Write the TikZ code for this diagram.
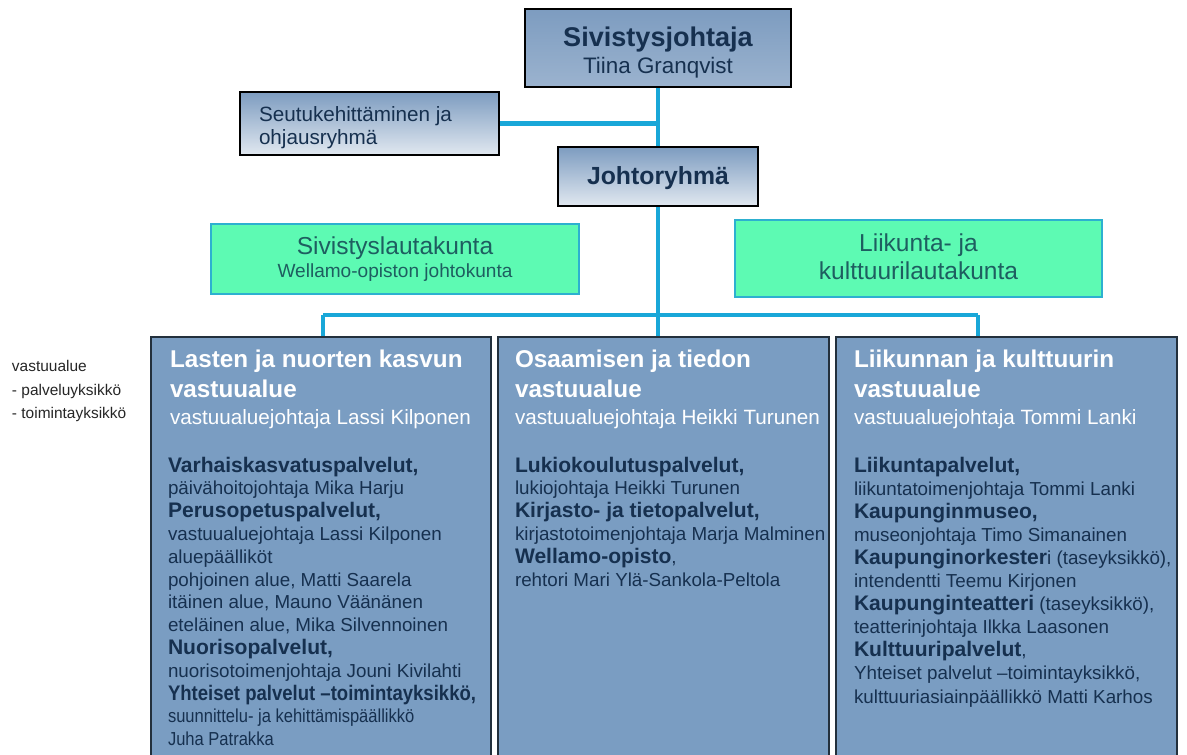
\documentclass[tikz,border=0pt]{standalone}
\usepackage{fontspec}
\setmainfont{Liberation Sans}
\usetikzlibrary{fit}
\definecolor{spine}{HTML}{19A7D8}
\definecolor{navy}{HTML}{16304F}
\definecolor{topA}{HTML}{7D9CC0}
\definecolor{topB}{HTML}{E1E8F0}
\definecolor{topM}{HTML}{DCE5EE}
\definecolor{mint}{HTML}{5DFAB3}
\definecolor{mintedge}{HTML}{2DB0D0}
\definecolor{teal}{HTML}{1E5E60}
\definecolor{areafill}{HTML}{7A9DC2}
\definecolor{areaedge}{HTML}{23303C}
\newcommand\hd[1]{{\fontsize{15.8}{19}\selectfont\bfseries #1}}
\newcommand\narrow[1]{\scalebox{0.88}[1]{#1}}
\tikzset{
  topbox/.style={draw=black, line width=1.5pt, top color=topA, bottom color=topB, inner sep=0pt, outer sep=0pt},
  headbox/.style={draw=black, line width=1.5pt, top color=topA, middle color=topM, bottom color=topA!70!topB, inner sep=0pt, outer sep=0pt},
  boardbox/.style={draw=mintedge, line width=1.5pt, fill=mint, inner sep=0pt, outer sep=0pt},
  areabox/.style={draw=areaedge, line width=1.5pt, fill=areafill, inner sep=0pt, outer sep=0pt},
  conn/.style={draw=spine, line width=3.6pt},
  txt/.style={inner sep=0pt, outer sep=0pt},
  body/.style={txt, anchor=base west, text=navy, font=\fontsize{14.1}{17}\selectfont},
  legend/.style={txt, anchor=base west, text=black!85, font=\fontsize{11.6}{14}\selectfont},
}
\begin{document}
\begin{tikzpicture}[x=0.75pt,y=-0.75pt]
\useasboundingbox (0,0) rectangle (1187,755);
\node[headbox, fit={(525,9) (791,87)}] (top) {};
\node[topbox, fit={(240,92) (499,155)}] (seutu) {};
\node[topbox, fit={(558,147) (758,206)}] (jr) {};
\node[areabox, fit={(151,337) (491,762)}] (b1) {};
\node[areabox, fit={(498,337) (829,762)}] (b2) {};
\node[areabox, fit={(836,337) (1177,762)}] (b3) {};
\coordinate (d1) at (323,315);
\coordinate (d3) at (978,315);
% connectors
\draw[conn] (top.south) -- (jr.north);
\draw[conn] (seutu.east) -- (seutu.east -| top.south);
\draw[conn] (jr.south) -- (jr.south |- b2.north);
\draw[conn] (d1) -- (d3);
\draw[conn] (d1) -- (d1 |- b1.north);
\draw[conn] (d3) -- (d3 |- b3.north);
% redraw box outlines on top of connector ends
\draw[draw=black, line width=1.5pt] (top.north west) rectangle (top.south east);
\draw[draw=black, line width=1.5pt] (seutu.north west) rectangle (seutu.south east);
\draw[draw=black, line width=1.5pt] (jr.north west) rectangle (jr.south east);
\draw[draw=areaedge, line width=1.5pt] (b1.north west) rectangle (b1.south east);
\draw[draw=areaedge, line width=1.5pt] (b2.north west) rectangle (b2.south east);
\draw[draw=areaedge, line width=1.5pt] (b3.north west) rectangle (b3.south east);
\node[boardbox, fit={(211,224) (579,294)}] (g1) {};
\node[boardbox, fit={(735,220) (1102,297)}] (g2) {};
% top texts
\node[txt, anchor=base, text=navy, font=\fontsize{20.3}{24}\selectfont\bfseries] (t1) at (658,47) {Sivistysjohtaja};
\node[txt, anchor=base, text=navy, font=\fontsize{16.8}{20}\selectfont] (t2) at (658,74) {Tiina Granqvist};
\node[txt, anchor=base west, text=navy, font=\fontsize{15.5}{18}\selectfont] (s1) at (259,122) {Seutukehittäminen ja};
\node[txt, anchor=base west, text=navy, font=\fontsize{15.5}{18}\selectfont] (s2) at (259,145) {ohjausryhmä};
\node[txt, anchor=base, text=navy, font=\fontsize{18.6}{22}\selectfont\bfseries] (j1) at (658,185) {Johtoryhmä};
\node[txt, anchor=base, text=teal, font=\fontsize{18.4}{22}\selectfont] (g1a) at (395,255) {Sivistyslautakunta};
\node[txt, anchor=base, text=teal, font=\fontsize{14.3}{17}\selectfont] (g1b) at (395,278) {Wellamo-opiston johtokunta};
\node[txt, anchor=base, text=teal, font=\fontsize{18.4}{22}\selectfont] (g2a) at (918.5,252) {Liikunta- ja};
\node[txt, anchor=base, text=teal, font=\fontsize{18.4}{22}\selectfont] (g2b) at (918.5,280) {kulttuurilautakunta};
% legend
\node[legend] (lg1) at (12,371) {vastuualue};
\node[legend] (lg2) at (12,395) {- palveluyksikkö};
\node[legend] (lg3) at (12,418) {- toimintayksikkö};
% area titles
\foreach \nm/\xx/\la/\lb/\lc in {
  a/170/{Lasten ja nuorten kasvun}/{vastuualue}/{vastuualuejohtaja Lassi Kilponen},
  b/515/{Osaamisen ja tiedon}/{vastuualue}/{vastuualuejohtaja Heikki Turunen},
  c/854/{Liikunnan ja kulttuurin}/{vastuualue}/{vastuualuejohtaja Tommi Lanki}}{
  \node[txt, anchor=base west, text=white, font=\fontsize{18.2}{22}\selectfont\bfseries] (\nm h1) at (\xx,367) {\la};
  \node[txt, anchor=base west, text=white, font=\fontsize{18.2}{22}\selectfont\bfseries] (\nm h2) at (\xx,397) {\lb};
  \node[txt, anchor=base west, text=white, font=\fontsize{15.5}{18}\selectfont] (\nm h3) at (\xx,424) {\lc};
}
% body lines
\foreach \t [count=\i from 0] in {
  {\hd{Varhaiskasvatuspalvelut,}},
  {päivähoitojohtaja Mika Harju},
  {\hd{Perusopetuspalvelut,}},
  {vastuualuejohtaja Lassi Kilponen},
  {aluepäälliköt},
  {pohjoinen alue, Matti Saarela},
  {itäinen alue, Mauno Väänänen},
  {eteläinen alue, Mika Silvennoinen},
  {\hd{Nuorisopalvelut,}},
  {nuorisotoimenjohtaja Jouni Kivilahti},
  {\narrow{\hd{Yhteiset palvelut –toimintayksikkö,}}},
  {\narrow{suunnittelu- ja kehittämispäällikkö}},
  {\narrow{Juha Patrakka}}}{
  \node[body] (ab\i) at (168,472+22.8*\i) {\t};
}
\foreach \t [count=\i from 0] in {
  {\hd{Lukiokoulutuspalvelut,}},
  {lukiojohtaja Heikki Turunen},
  {\hd{Kirjasto- ja tietopalvelut,}},
  {kirjastotoimenjohtaja Marja Malminen},
  {\hd{Wellamo-opisto},},
  {rehtori Mari Ylä-Sankola-Peltola}}{
  \node[body] (bb\i) at (515,472+22.8*\i) {\t};
}
\foreach \t [count=\i from 0] in {
  {\hd{Liikuntapalvelut,}},
  {liikuntatoimenjohtaja Tommi Lanki},
  {\hd{Kaupunginmuseo,}},
  {museonjohtaja Timo Simanainen},
  {\hd{Kaupunginorkester}i (taseyksikkö),},
  {intendentti Teemu Kirjonen},
  {\hd{Kaupunginteatteri} (taseyksikkö),},
  {teatterinjohtaja Ilkka Laasonen},
  {\hd{Kulttuuripalvelut},},
  {Yhteiset palvelut –toimintayksikkö,},
  {kulttuuriasiainpäällikkö Matti Karhos}}{
  \node[body] (cb\i) at (854,472+23.1*\i) {\t};
}
\end{tikzpicture}
\end{document}
